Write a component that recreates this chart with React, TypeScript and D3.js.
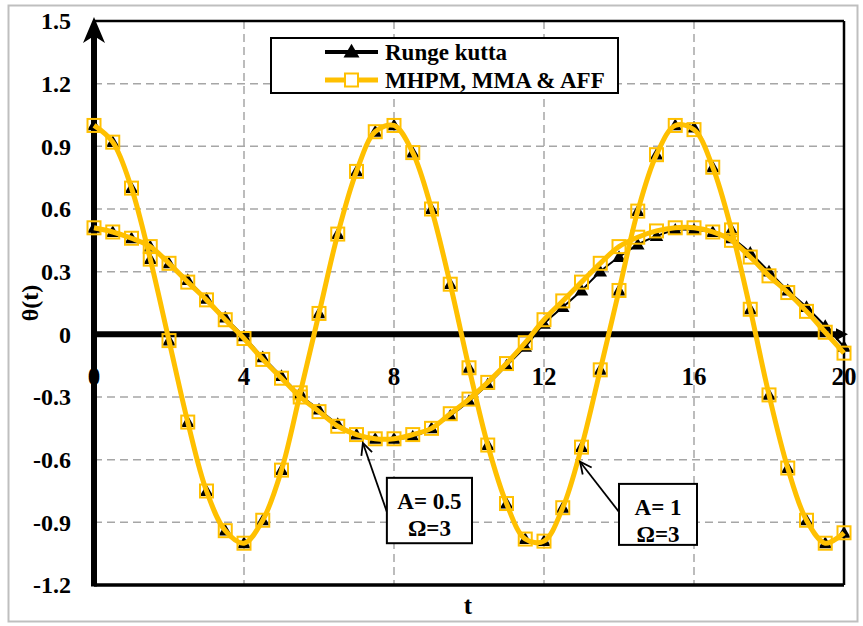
import * as d3 from "d3";

const W = 863;
const H = 626;
const FONT = '"Liberation Serif", "Times New Roman", serif';
const YELLOW = "#FFC000";
const GRID = "#A6A6A6";

// time steps (s) at which both solutions are sampled
const T_VALUES = [
  0, 0.5, 1, 1.5, 2, 2.5, 3, 3.5, 4, 4.5, 5, 5.5, 6, 6.5, 7, 7.5, 8, 8.5, 9,
  9.5, 10, 10.5, 11, 11.5, 12, 12.5, 13, 13.5, 14, 14.5, 15, 15.5, 16, 16.5,
  17, 17.5, 18, 18.5, 19, 19.5, 20,
];

// A = 1, Ω = 3
const RK_A1 = [
  1.0, 0.92, 0.7, 0.36, -0.03, -0.42, -0.75, -0.94, -1.0, -0.89, -0.65, -0.28,
  0.1, 0.48, 0.78, 0.97, 1.0, 0.87, 0.6, 0.24, -0.16, -0.53, -0.81, -0.98,
  -0.99, -0.83, -0.54, -0.17, 0.21, 0.59, 0.86, 1.0, 0.99, 0.8, 0.5, 0.12,
  -0.29, -0.64, -0.89, -1.0, -0.95,
];
const MHPM_A1 = [
  1.0, 0.92, 0.7, 0.36, -0.03, -0.42, -0.75, -0.94, -1.0, -0.89, -0.65, -0.28,
  0.1, 0.48, 0.78, 0.97, 1.0, 0.87, 0.6, 0.24, -0.16, -0.53, -0.81, -0.98,
  -0.99, -0.83, -0.54, -0.17, 0.21, 0.59, 0.86, 1.0, 0.98, 0.8, 0.5, 0.12,
  -0.29, -0.64, -0.89, -1.0, -0.95,
];

// A = 0.5, Ω = 3
const RK_A05 = [
  0.51, 0.49, 0.46, 0.42, 0.34, 0.26, 0.17, 0.08, -0.01, -0.11, -0.2, -0.29,
  -0.36, -0.43, -0.48, -0.5, -0.5, -0.49, -0.45, -0.39, -0.32, -0.24, -0.15,
  -0.06, 0.05, 0.13, 0.21, 0.3, 0.37, 0.43, 0.47, 0.5, 0.5, 0.49, 0.46, 0.39,
  0.3, 0.21, 0.13, 0.04, -0.06,
];
const MHPM_A05 = [
  0.51, 0.49, 0.46, 0.42, 0.34, 0.25, 0.165, 0.07, -0.02, -0.12, -0.21, -0.3,
  -0.37, -0.44, -0.48, -0.5, -0.5, -0.48, -0.45, -0.38, -0.31, -0.23, -0.14,
  -0.04, 0.07, 0.16, 0.25, 0.34, 0.42, 0.465, 0.495, 0.51, 0.51, 0.49, 0.45,
  0.37, 0.28, 0.2, 0.11, 0.01, -0.09,
];

const X_TICKS = [0, 4, 8, 12, 16, 20];
const X_GRID = [4, 8, 12, 16];
const Y_TICKS = [-1.2, -0.9, -0.6, -0.3, 0, 0.3, 0.6, 0.9, 1.2, 1.5];
const Y_GRID = [-0.9, -0.6, -0.3, 0.3, 0.6, 0.9, 1.2];

const LEGEND = ["Runge kutta", "MHPM, MMA & AFF"];

// callouts in data units: arrow tip, arrow tail, box [t0, t1, θtop, θbottom]
const CALLOUTS = [
  { lines: ["A= 0.5", "Ω=3"], tip: [7.17, -0.52], tail: [7.81, -0.85], box: [7.81, 10.08, -0.687, -1.0] },
  { lines: ["A= 1", "Ω=3"], tip: [12.96, -0.61], tail: [14.0, -0.85], box: [14.0, 16.08, -0.716, -1.008] },
];

const x = d3.scaleLinear().domain([0, 20]).range([94, 844]);
const y = d3.scaleLinear().domain([-1.2, 1.5]).range([585, 21]);

const line = d3
  .line<number>()
  .x((_, i) => x(T_VALUES[i]))
  .y((v) => y(v))
  .curve(d3.curveCatmullRom.alpha(0.5));

const tri = d3.symbol().type(d3.symbolTriangle).size(80)() as string;
const triBig = d3.symbol().type(d3.symbolTriangle).size(110)() as string;

function fmt(v: number) {
  if (v === 0) return "0";
  return v.toFixed(1);
}

function Arrow({ tip, tail }: { tip: number[]; tail: number[] }) {
  const x1 = x(tail[0]);
  const y1 = y(tail[1]);
  const x2 = x(tip[0]);
  const y2 = y(tip[1]);
  const ang = Math.atan2(y2 - y1, x2 - x1);
  const len = 13;
  const spread = 0.45;
  const a1 = [x2 - len * Math.cos(ang - spread), y2 - len * Math.sin(ang - spread)];
  const a2 = [x2 - len * Math.cos(ang + spread), y2 - len * Math.sin(ang + spread)];
  return (
    <g stroke="#000" strokeWidth={1.8} fill="none">
      <line x1={x1} y1={y1} x2={x2} y2={y2} />
      <polyline points={`${a1[0]},${a1[1]} ${x2},${y2} ${a2[0]},${a2[1]}`} />
    </g>
  );
}

export default function App() {
  const x0 = x(0);
  const xEnd = x(20);
  const yTop = y(1.5);
  const yBot = y(-1.2);
  const yZero = y(0);

  return (
    <svg
      width={W}
      height={H}
      viewBox={`0 0 ${W} ${H}`}
      style={{ position: "absolute", left: 0, top: 0, background: "#fff" }}
      fontFamily={FONT}
      fontWeight="bold"
    >
      <rect x={8.5} y={5.5} width={849} height={616} fill="#fff" stroke="#BFBFBF" strokeWidth={2} />

      {/* grid */}
      {Y_GRID.map((v) => (
        <line key={`gy${v}`} x1={x0} x2={xEnd} y1={y(v)} y2={y(v)} stroke={GRID} strokeWidth={1.5} strokeDasharray="8,5" />
      ))}
      {X_GRID.map((v) => (
        <line key={`gx${v}`} x1={x(v)} x2={x(v)} y1={yTop} y2={yBot} stroke={GRID} strokeWidth={1.5} strokeDasharray="8,5" />
      ))}

      {/* plot frame */}
      <line x1={x0} x2={xEnd} y1={yTop} y2={yTop} stroke="#000" strokeWidth={2.5} />
      <line x1={xEnd} x2={xEnd} y1={yTop} y2={yBot} stroke="#000" strokeWidth={2.5} />
      <line x1={x0} x2={xEnd} y1={yBot} y2={yBot} stroke="#000" strokeWidth={3.5} />

      {/* zero axis with arrow */}
      <line x1={x0} x2={xEnd - 6} y1={yZero} y2={yZero} stroke="#000" strokeWidth={6} />
      <path d={`M${xEnd + 4},${yZero} L${xEnd - 8},${yZero - 6} L${xEnd - 8},${yZero + 6} Z`} fill="#000" />

      {/* y axis with arrow */}
      <line x1={x0} x2={x0} y1={yBot + 1.5} y2={yTop + 10} stroke="#000" strokeWidth={6} />
      <path d={`M${x0},${yTop - 4} L${x0 + 11},${yTop + 22} L${x0},${yTop + 15} L${x0 - 11},${yTop + 22} Z`} fill="#000" />

      {/* Runge kutta series */}
      {[RK_A05, RK_A1].map((s, k) => (
        <path key={`rk${k}`} d={line(s) as string} fill="none" stroke="#000" strokeWidth={2} />
      ))}
      {[RK_A05, RK_A1].map((s, k) =>
        s.map((v, i) => (
          <path key={`t${k}-${i}`} d={tri} transform={`translate(${x(T_VALUES[i])},${y(v) + 1})`} fill="#000" />
        ))
      )}

      {/* MHPM, MMA & AFF series */}
      {[MHPM_A05, MHPM_A1].map((s, k) => (
        <path key={`mh${k}`} d={line(s) as string} fill="none" stroke={YELLOW} strokeWidth={5} />
      ))}
      {[MHPM_A05, MHPM_A1].map((s, k) =>
        s.map((v, i) => (
          <rect
            key={`s${k}-${i}`}
            x={x(T_VALUES[i]) - 6.5}
            y={y(v) - 6.5}
            width={13}
            height={13}
            fill="none"
            stroke={YELLOW}
            strokeWidth={2}
          />
        ))
      )}

      {/* tick labels */}
      {Y_TICKS.map((v) => (
        <text key={`yl${v}`} x={71} y={y(v)} dy="0.35em" textAnchor="end" fontSize={24}>
          {fmt(v)}
        </text>
      ))}
      {X_TICKS.map((v) => (
        <text key={`xl${v}`} x={x(v)} y={385} textAnchor="middle" fontSize={25}>
          {v}
        </text>
      ))}

      <text x={468} y={614} textAnchor="middle" fontSize={25}>
        t
      </text>
      <text transform={`translate(38,${y(0.15)}) rotate(-90)`} textAnchor="middle" fontSize={24}>
        θ(t)
      </text>

      {/* callouts */}
      {CALLOUTS.map((c, k) => {
        const bx = x(c.box[0]);
        const bw = x(c.box[1]) - bx;
        const by = y(c.box[2]);
        const bh = y(c.box[3]) - by;
        return (
          <g key={`c${k}`}>
            <Arrow tip={c.tip} tail={c.tail} />
            <rect x={bx} y={by} width={bw} height={bh} fill="#fff" stroke="#000" strokeWidth={2} />
            {c.lines.map((l, j) => (
              <text key={j} x={bx + bw / 2} y={by + 31 + j * 27} textAnchor="middle" fontSize={23}>
                {l}
              </text>
            ))}
          </g>
        );
      })}

      {/* legend */}
      <g>
        <rect x={271} y={38} width={347} height={55} fill="#fff" stroke="#000" strokeWidth={2} />
        <line x1={325} x2={378} y1={52} y2={52} stroke="#000" strokeWidth={4} />
        <path d={triBig} transform="translate(351.5,53)" fill="#000" />
        <line x1={325} x2={378} y1={80} y2={80} stroke={YELLOW} strokeWidth={5} />
        <rect x={345} y={73.5} width={13} height={13} fill="#fff" stroke={YELLOW} strokeWidth={2} />
        {LEGEND.map((l, i) => (
          <text key={l} x={385} y={60 + i * 28} fontSize={23}>
            {l}
          </text>
        ))}
      </g>
    </svg>
  );
}
